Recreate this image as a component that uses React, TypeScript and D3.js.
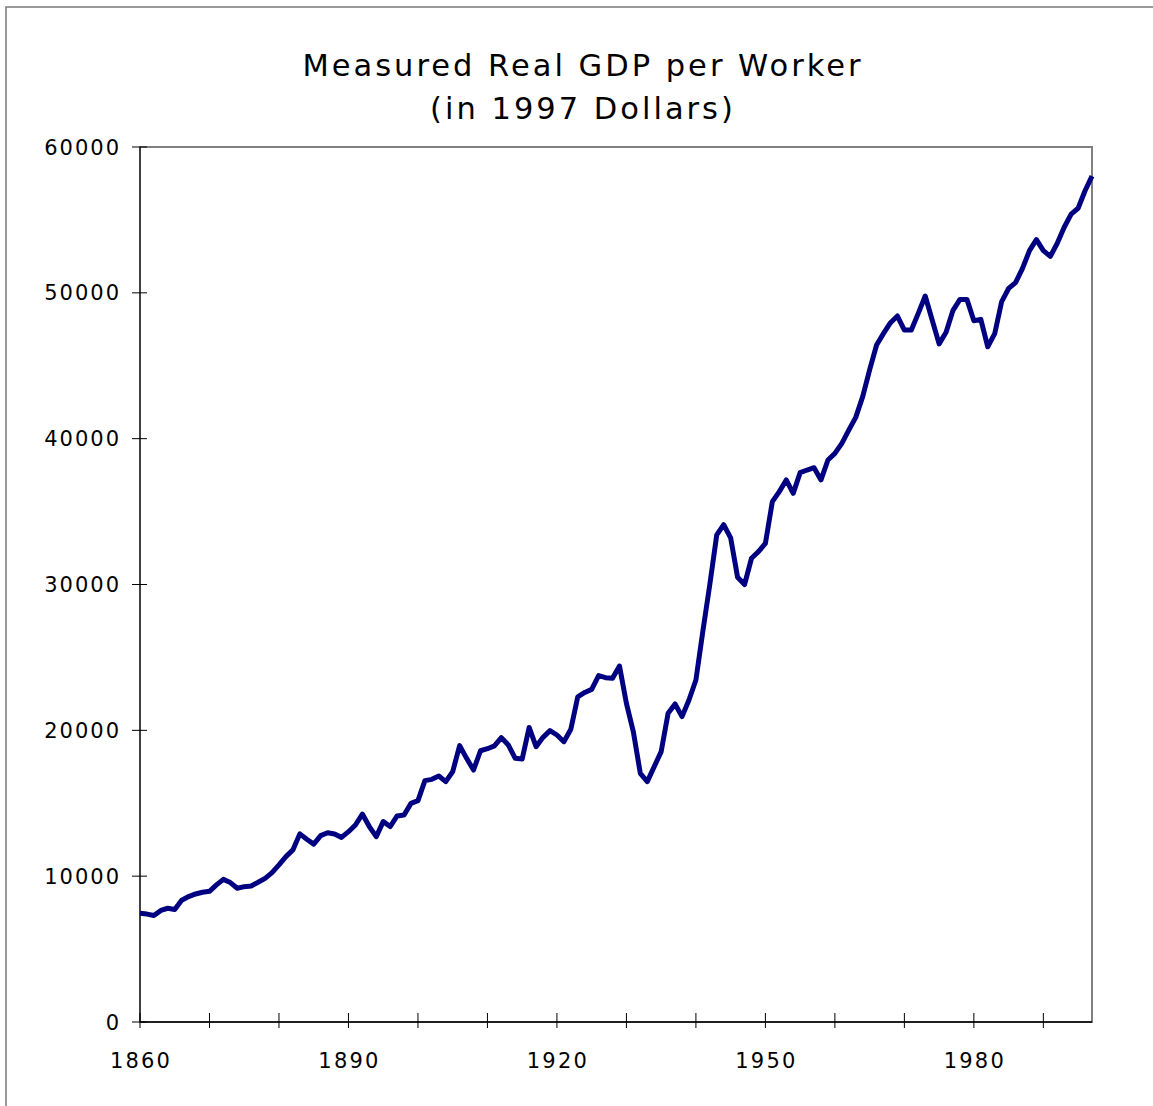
import React from "react";
import * as d3 from "d3";

// Real GDP per worker, 1997 dollars, one value per year starting in 1860
const firstYear = 1860;
const gdpPerWorker: number[] = [
  // 1860s
  7450, 7400, 7300, 7650, 7800, 7720, 8350, 8600, 8780, 8900,
  // 1870s
  8960, 9400, 9780, 9560, 9170, 9280, 9330, 9580, 9850, 10240,
  // 1880s
  10770, 11340, 11800, 12900, 12530, 12200, 12780, 12980, 12890, 12660,
  // 1890s
  13050, 13510, 14260, 13400, 12710, 13740, 13400, 14130, 14190, 14990,
  // 1900s
  15180, 16550, 16640, 16870, 16480, 17170, 18950, 18080, 17280, 18600,
  // 1910s
  18740, 18930, 19500, 19000, 18080, 18040, 20200, 18880, 19520, 19980,
  // 1920s
  19680, 19220, 20070, 22300, 22600, 22810, 23750, 23610, 23570, 24410,
  // 1930s
  21850, 19900, 17050, 16480, 17510, 18540, 21170, 21810, 20940, 22080,
  // 1940s
  23450, 26800, 30000, 33400, 34100, 33200, 30500, 30000, 31800, 32250,
  // 1950s
  32820, 35680, 36370, 37170, 36250, 37670, 37850, 38010, 37170, 38540,
  // 1960s
  38990, 39680, 40590, 41460, 42880, 44710, 46420, 47220, 47950, 48410,
  // 1970s
  47450, 47450, 48590, 49780, 48140, 46500, 47300, 48800, 49550, 49550,
  // 1980s
  48090, 48180, 46300, 47200, 49400, 50300, 50700, 51680, 52890, 53650,
  // 1990s
  52900, 52500, 53400, 54500, 55400, 55800, 57000, 58000,
];

const years: number[] = gdpPerWorker.map((_, i) => firstYear + i);
const xTickYears: number[] = [1860, 1870, 1880, 1890, 1900, 1910, 1920, 1930, 1940, 1950, 1960, 1970, 1980, 1990];
const xLabelYears: number[] = [1860, 1890, 1920, 1950, 1980];
const yTickValues: number[] = [0, 10000, 20000, 30000, 40000, 50000, 60000];
const titleLines: string[] = ["Measured Real GDP per Worker", "(in 1997 Dollars)"];

const W = 1153;
const H = 1106;
const plot = { left: 140, right: 1092, top: 147, bottom: 1022 };
const font = "'DejaVu Sans', Verdana, sans-serif";

export default function App() {
  const x = d3
    .scaleLinear()
    .domain([firstYear, years[years.length - 1]])
    .range([plot.left, plot.right]);
  const y = d3.scaleLinear().domain([0, 60000]).range([plot.bottom, plot.top]);

  const line = d3
    .line<number>()
    .x((_, i) => x(years[i]))
    .y((d) => y(d))
    .curve(d3.curveLinear);

  const centerX = 583;

  return (
    <svg
      width={W}
      height={H}
      style={{ position: "absolute", left: 0, top: 0, background: "#fff" }}
      fontFamily={font}
    >
      {/* chart frame */}
      <rect x={6} y={7} width={1400} height={1400} fill="#fff" stroke="#808080" strokeWidth={1.6} />

      {/* title */}
      <text x={centerX} y={76} textAnchor="middle" fontSize={30.5} letterSpacing={3} fill="#000">
        {titleLines[0]}
      </text>
      <text x={centerX} y={119} textAnchor="middle" fontSize={30.5} letterSpacing={3} fill="#000">
        {titleLines[1]}
      </text>

      {/* plot area border */}
      <rect
        x={plot.left}
        y={plot.top}
        width={plot.right - plot.left}
        height={plot.bottom - plot.top}
        fill="none"
        stroke="#808080"
        strokeWidth={2}
      />

      {/* y axis */}
      <line x1={plot.left} x2={plot.left} y1={plot.top} y2={plot.bottom} stroke="#000" strokeWidth={1} />
      {yTickValues.map((v) => (
        <g key={`y${v}`}>
          <line x1={plot.left - 8} x2={plot.left + 7} y1={y(v)} y2={y(v)} stroke="#000" strokeWidth={1} />
          <text
            x={121}
            y={y(v)}
            dy="0.36em"
            textAnchor="end"
            fontSize={21}
            letterSpacing={2}
            fill="#000"
          >
            {v}
          </text>
        </g>
      ))}

      {/* x axis */}
      <line x1={plot.left} x2={plot.right} y1={plot.bottom} y2={plot.bottom} stroke="#000" strokeWidth={1.5} />
      {xTickYears.map((yr) => (
        <line
          key={`xt${yr}`}
          x1={x(yr)}
          x2={x(yr)}
          y1={plot.bottom - 9}
          y2={plot.bottom + 6}
          stroke="#000"
          strokeWidth={1}
        />
      ))}
      {xLabelYears.map((yr) => (
        <text
          key={`xl${yr}`}
          x={x(yr) + 1}
          y={1068}
          textAnchor="middle"
          fontSize={21}
          letterSpacing={2.2}
          fill="#000"
        >
          {yr}
        </text>
      ))}

      {/* series */}
      <path
        d={line(gdpPerWorker) ?? ""}
        fill="none"
        stroke="#000080"
        strokeWidth={5}
        strokeLinejoin="round"
        strokeLinecap="butt"
      />
    </svg>
  );
}
